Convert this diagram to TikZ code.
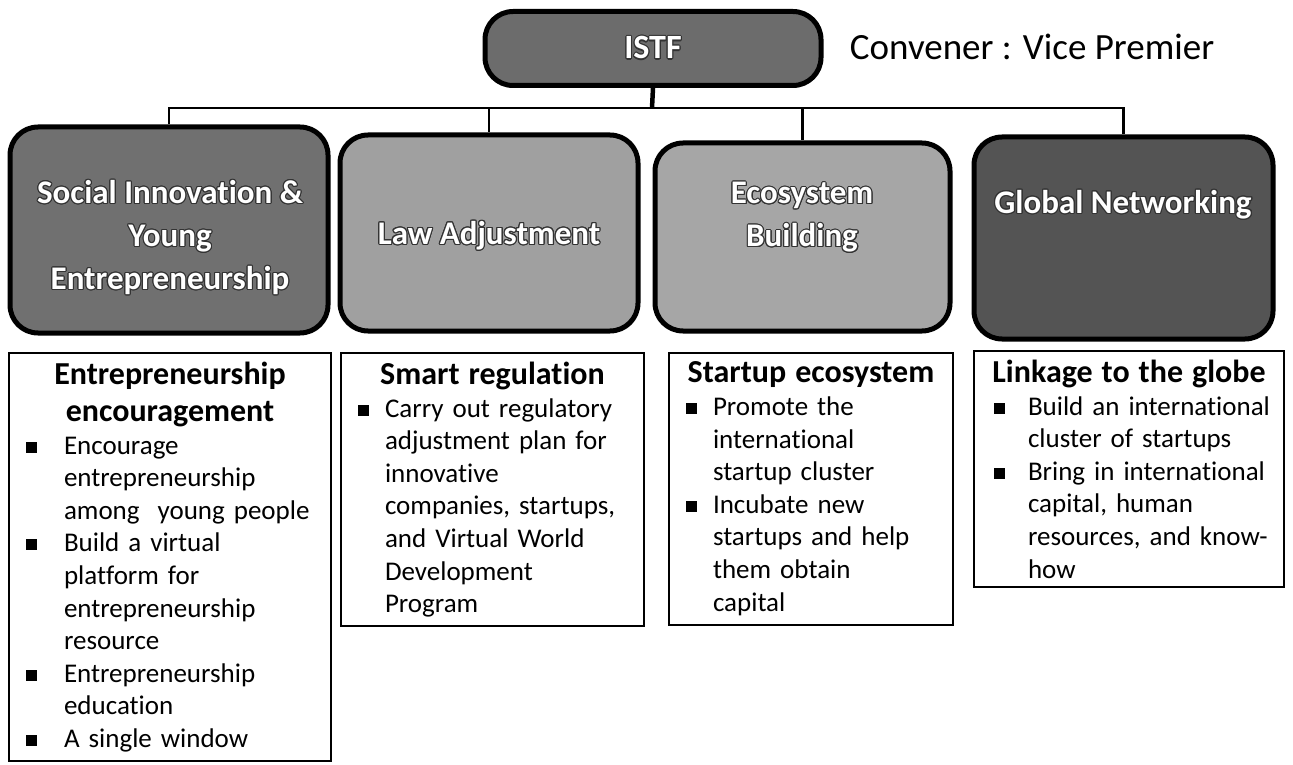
\documentclass[tikz,border=0pt]{standalone}
\usepackage{fontspec}
\setmainfont{Carlito}[Ligatures=NoCommon]
\usepackage{xcolor}
\usepackage{contour}
\contourlength{1.1pt}

\definecolor{istfGray}{RGB}{108,108,108}
\definecolor{socGray}{RGB}{112,112,112}
\definecolor{lawGray}{RGB}{160,160,160}
\definecolor{ecoGray}{RGB}{166,166,166}
\definecolor{globGray}{RGB}{84,84,84}

\newlength{\bulletgap}
\newcommand{\headfont}{\bfseries\fontsize{33}{43}\selectfont}
\newcommand{\titlefont}{\bfseries\fontsize{32}{37}\selectfont}
\newcommand{\bodyfont}{\fontsize{27}{32.6}\selectfont}
\newcommand{\sqbullet}{\rule[1.5pt]{11pt}{11pt}}
\newcommand{\bitem}[1]{\par\noindent\llap{\sqbullet\hspace{\bulletgap}}#1}
\newcommand{\boxtitle}[1]{{\titlefont\centering #1\par}}
\newcommand{\bodystart}[2]{\bodyfont\leftskip=#1pt\rightskip=0pt plus 1fil\relax\setlength{\bulletgap}{#2pt}}
\newcommand{\hl}[1]{\contour{black!80}{#1}}

\tikzset{
	headbox/.style={draw=black, line width=5pt, rounded corners=28pt, inner sep=0pt},
	headlabel/.style={text=white, font=\headfont, align=center, inner sep=0.75pt},
	busline/.style={draw=black, line width=2.5pt},
	infobox/.style={draw=black, line width=2pt, anchor=north west, inner xsep=0pt, inner ysep=9pt, align=left, font=\bodyfont},
}

\begin{document}
\begin{tikzpicture}[x=1pt,y=1pt,yscale=-1,xscale=1]
		\useasboundingbox (0,0) rectangle (1293,765);
		
		%Shape: Rounded Rect [istf]
		\node[headbox, fill=istfGray, minimum width=336, minimum height=74] (istf) at (653,48.5) {};
		% Text Node
		\node[headlabel, font=\bfseries\fontsize{34}{40}\selectfont] (istfLbl) at (istf.center) {\hl{ISTF}};
		% Text Node
		\node[anchor=west, inner sep=0.75pt, font=\fontsize{37}{42}\selectfont] (convener) at (849,47) {Convener : Vice Premier};
		
		%Shape: Rounded Rect [soc]
		\node[headbox, fill=socGray, minimum width=318, minimum height=206] (soc) at (169,230) {};
		%Shape: Rounded Rect [law]
		\node[headbox, fill=lawGray, minimum width=298, minimum height=196] (law) at (489,233) {};
		%Shape: Rounded Rect [eco]
		\node[headbox, fill=ecoGray, minimum width=295, minimum height=188] (eco) at (802.5,237) {};
		%Shape: Rounded Rect [glob]
		\node[headbox, fill=globGray, minimum width=299, minimum height=202] (glob) at (1123.5,238) {};
		
		% Text Node
		\node[headlabel] (socLbl) at (170,238) {\hl{Social Innovation \&}\\\hl{Young}\\\hl{Entrepreneurship}};
		% Text Node
		\node[headlabel] (lawLbl) at (489,236) {\hl{Law Adjustment}};
		% Text Node
		\node[headlabel] (ecoLbl) at (802,218) {\hl{Ecosystem}\\\hl{Building}};
		% Text Node
		\node[headlabel] (globLbl) at (1123,205) {\hl{Global Networking}};
		
		%Connectors: bus from ISTF
		\coordinate (bus) at (652,108);
		\draw[busline, line width=4.5pt] (istf.south) -- (bus);
		\foreach \b in {soc,law,eco,glob}
			\draw[busline] (bus) -| (\b.north);
		
		%Shape: Rect [enc]
		\node[infobox, text width=322] (enc) at (8,352) {%
			\boxtitle{Entrepreneurship\\encouragement}%
			\bodystart{55}{27}%
			\bitem{Encourage\\entrepreneurship\\among\ \ young people}
			\bitem{Build a virtual\\platform for\\entrepreneurship\\resource}
			\bitem{Entrepreneurship\\education}
			\bitem{A single window}\par};
		%Shape: Rect [reg]
		\node[infobox, text width=303] (reg) at (340,352) {%
			\boxtitle{Smart regulation}%
			\bodystart{44}{16}%
			\bitem{Carry out regulatory\\adjustment plan for\\innovative\\companies, startups,\\and Virtual World\\Development\\Program}\par};
		%Shape: Rect [startup]
		\node[infobox, text width=284] (startup) at (668,352) {%
			\boxtitle{Startup ecosystem}%
			\bodystart{44}{16}%
			\bitem{Promote the\\international\\startup cluster}
			\bitem{Incubate new\\startups and help\\them obtain\\capital}\par};
		%Shape: Rect [link]
		\node[infobox, text width=310] (link) at (973,350) {%
			\boxtitle{Linkage to the globe}%
			\bodystart{54}{23}%
			\bitem{Build an international\\cluster of startups}
			\bitem{Bring in international\\capital, human\\resources, and know-\\how}\par};
		
\end{tikzpicture}
\end{document}
